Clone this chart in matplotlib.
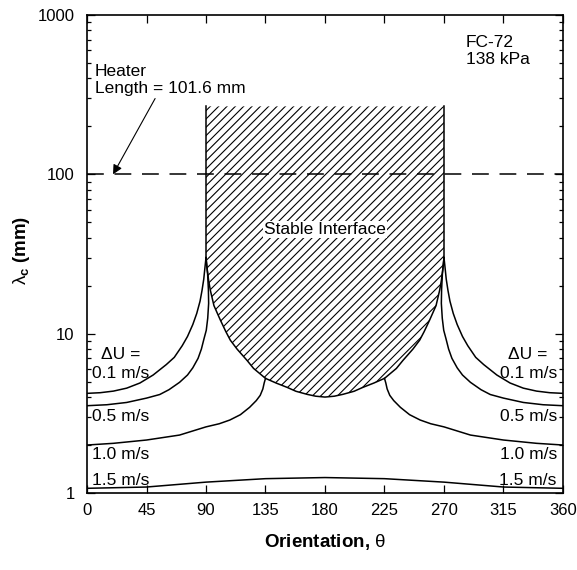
import matplotlib
matplotlib.use("Agg")
import matplotlib.pyplot as plt
from matplotlib.ticker import FuncFormatter, NullFormatter, LogLocator

plt.rcParams['font.family'] = ['Liberation Sans', 'DejaVu Sans']
plt.rcParams['mathtext.fontset'] = 'custom'
plt.rcParams['mathtext.rm'] = 'Liberation Sans'
plt.rcParams['mathtext.it'] = 'Liberation Sans'
plt.rcParams['mathtext.bf'] = 'Liberation Sans:bold'
plt.rcParams['hatch.linewidth'] = 0.8

# values (theta in degrees, lambda_c in mm)
theta_01 = [0, 10, 20, 30, 40, 50, 60, 66, 72, 76, 80, 83, 85.5, 87, 88.3, 89.2, 90]
lam_01 = [4.22, 4.26, 4.36, 4.55, 4.9, 5.5, 6.4, 7.1, 8.4, 9.6, 11.4, 13.4, 16, 18.7, 22, 26, 30]
theta_01r = [270, 270.8, 271.7, 273, 274.5, 277, 280, 284, 288, 294, 300, 310, 320, 330, 340, 350, 360]
lam_01r = [30, 26, 22, 18.7, 16, 13.4, 11.4, 9.6, 8.4, 7.1, 6.4, 5.5, 4.9, 4.55, 4.36, 4.26, 4.22]

theta_05 = [0, 15, 30, 45, 55, 62, 70, 76, 80, 84, 86.5, 88.5, 90.2, 91.3, 92, 91.8, 91.2, 90.5, 90]
lam_05 = [3.53, 3.58, 3.7, 3.94, 4.15, 4.45, 4.95, 5.5, 6.1, 7.0, 8.0, 9.3, 10.5, 12.5, 15.5, 19, 23.8, 27, 30]
theta_05r = [270, 269.5, 268.8, 268.2, 268, 268.7, 269.8, 271.5, 273.5, 276, 280, 284, 290, 298, 305, 315, 330, 345, 360]
lam_05r = [30, 27, 23.8, 19, 15.5, 12.5, 10.5, 9.3, 8.0, 7.0, 6.1, 5.5, 4.95, 4.45, 4.15, 3.94, 3.7, 3.58, 3.53]

theta_10 = [0, 20, 45, 70, 90, 100, 108, 116, 123, 128, 131, 133, 134, 135]
lam_10 = [2.0, 2.05, 2.15, 2.31, 2.6, 2.72, 2.87, 3.1, 3.45, 3.8, 4.1, 4.5, 4.9, 5.24]
theta_10r = [225, 226, 227, 229, 232, 237, 244, 252, 260, 270, 290, 315, 340, 360]
lam_10r = [5.24, 4.9, 4.5, 4.1, 3.8, 3.45, 3.1, 2.87, 2.72, 2.6, 2.31, 2.15, 2.05, 2.0]

theta_15 = [0, 45, 90, 135, 180, 225, 270, 315, 360]
lam_15 = [1.07, 1.09, 1.17, 1.23, 1.25, 1.23, 1.17, 1.09, 1.07]

# lower edge of the stable region
theta_st = [90, 91, 92, 93.3, 96, 100.8, 105, 108.4, 113.5, 121, 126, 135, 143, 151.4, 158,
            166.5, 173, 180, 187, 193.5, 202, 208.6, 217, 225, 234, 239, 246.5, 251.6, 255,
            259.2, 264, 266.7, 268, 269, 270]
lam_st = [30, 25, 21.5, 18.7, 15, 12.2, 10.3, 9.1, 8.0, 6.8, 6.05, 5.24, 4.9, 4.6, 4.35,
          4.16, 4.05, 4.0, 4.05, 4.16, 4.35, 4.6, 4.9, 5.24, 6.05, 6.8, 8.0, 9.1, 10.3,
          12.2, 15, 18.7, 21.5, 25, 30]
stable_top = 267
heater_len = 100

fig = plt.figure(figsize=(5.77, 5.70), dpi=100)
ax = fig.add_axes([0.1508, 0.1351, 0.8249, 0.8386])

# hatched stable region
px = [90] + theta_st + [270]
py = [stable_top] + lam_st + [stable_top]
ax.fill(px, py, facecolor='none', edgecolor='black', hatch='////', linewidth=0)
ax.plot(theta_st, lam_st, color='black', lw=1.1)
ax.plot([90, 90], [lam_st[0], stable_top], color='black', lw=1.1)
ax.plot([270, 270], [lam_st[-1], stable_top], color='black', lw=1.1)

for xs, ys in [(theta_01, lam_01), (theta_01r, lam_01r), (theta_05, lam_05),
               (theta_05r, lam_05r), (theta_10, lam_10), (theta_10r, lam_10r),
               (theta_15, lam_15)]:
    ax.plot(xs, ys, color='black', lw=1.1)

ax.axhline(heater_len, color='black', lw=1.1, ls=(0, (11, 7)))

ax.set_xlim(0, 360)
ax.set_yscale('log')
ax.set_ylim(1, 1000)
ax.set_xticks(range(0, 361, 45))
ax.yaxis.set_major_locator(LogLocator(base=10))
ax.yaxis.set_minor_locator(LogLocator(base=10, subs=range(2, 10)))
ax.yaxis.set_major_formatter(FuncFormatter(lambda v, p: f'{v:g}'))
ax.yaxis.set_minor_formatter(NullFormatter())
ax.tick_params(which='both', direction='in', top=True, right=True, labelsize=12, width=0.9)
ax.tick_params(which='major', length=6)
ax.tick_params(which='minor', length=3)
ax.tick_params(axis='y', pad=9)
ax.tick_params(axis='x', pad=7)
for s in ax.spines.values():
    s.set_linewidth(1.2)

ax.set_xlabel('Orientation, $\\theta$', fontsize=13.5, fontweight='bold')
ax.xaxis.set_label_coords(0.5, -0.082)
ax.set_ylabel('$\\lambda_{\\mathbf{c}}$ (mm)', fontsize=13.5, fontweight='bold')
ax.yaxis.set_label_coords(-0.115, 0.508)

fs = 12.5
ax.text(180, 45, 'Stable Interface', ha='center', va='center', fontsize=fs,
        bbox=dict(facecolor='white', edgecolor='none', pad=1))
ax.text(0.796, 0.958, 'FC-72\n138 kPa', transform=ax.transAxes, ha='left', va='top',
        fontsize=fs, linespacing=1.12)
ax.text(0.0168, 0.897, 'Heater\nLength = 101.6 mm', transform=ax.transAxes, ha='left',
        va='top', fontsize=fs, linespacing=1.12)
ax.annotate('', xy=(19.7, 100), xytext=(51.5, 299),
            arrowprops=dict(arrowstyle='-|>', color='black', lw=0.8, mutation_scale=14,
                            shrinkA=0, shrinkB=0))

labels = ['\u0394U =', '0.1 m/s', '0.5 m/s', '1.0 m/s', '1.5 m/s']
label_y = [0.289, 0.249, 0.161, 0.0795, 0.027]
for lab, yy in zip(labels, label_y):
    xl = 0.029 if lab.startswith('\u0394') else 0.0105
    xr = 0.968 if lab.startswith('\u0394') else 0.987
    ax.text(xl, yy, lab, transform=ax.transAxes, ha='left', va='center', fontsize=fs)
    ax.text(xr, yy, lab, transform=ax.transAxes, ha='right', va='center', fontsize=fs)

fig.savefig('out.png', dpi=100)
